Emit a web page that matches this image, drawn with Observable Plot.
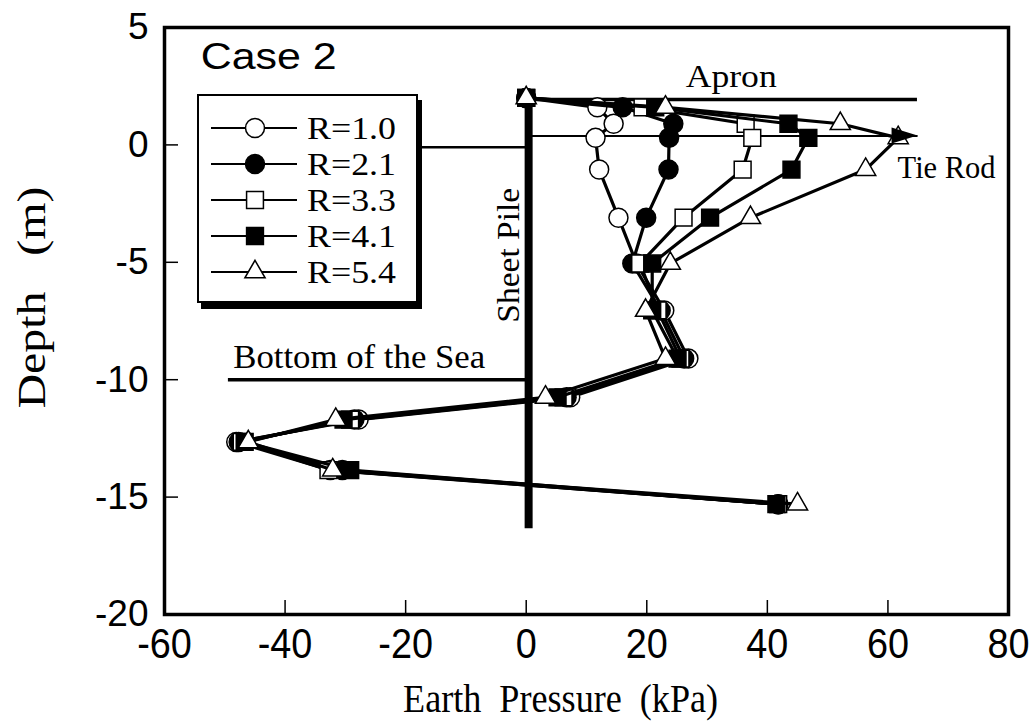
<!DOCTYPE html>
<html><head><meta charset="utf-8">
<script src="https://cdn.jsdelivr.net/npm/d3@7"></script>
<script src="https://cdn.jsdelivr.net/npm/@observablehq/plot@0.6"></script>
<style>
body{margin:0;background:#fff;}
#wrap{position:relative;width:1035px;height:728px;overflow:hidden;}
#legend{position:absolute;left:197px;top:94px;width:217px;height:205px;border:2px solid #000;box-shadow:4px 6px 0 #000;background:#fff;}
#legend svg{display:block;}
</style></head><body><div id="wrap"></div>
<script>
// ---- data ----
const series = ["R=1.0", "R=2.1", "R=3.3", "R=4.1", "R=5.4"];
const symbols = ["circle", "circle", "square", "square", "triangle"];
const fills = ["white", "black", "white", "black", "white"];
const depths = [2.0, 1.6, 0.9, 0.3, -1.05, -3.1, -5.05, -7.05, -9.1, -10.75, -11.7, -12.65, -13.85, -15.3];
const pR10 = [0, 11.8, 14.5, 11.5, 12.1, 15.3, 18.3, 22.9, 26.9, 7.3, -27.8, -48.1, -32.5, 41.8];
const pR21 = [0, 16.0, 24.4, 23.7, 23.6, 19.9, 17.6, 22.3, 26.2, 6.7, -28.5, -47.7, -30.5, 41.8];
const pR33 = [0, 19.3, 36.4, 37.5, 35.9, 26.1, 18.9, 21.8, 25.6, 6.2, -29.2, -47.2, -32.8, 41.8];
const pR41 = [0, 21.4, 43.5, 46.8, 44.0, 30.5, 20.9, 20.9, 25.1, 5.2, -30.3, -46.7, -29.2, 41.5];
const pR54 = [0, 23.1, 52.1, 61.7, 56.3, 37.2, 23.9, 19.8, 23.1, 3.2, -31.6, -46.1, -32.1, 45.0];
const values = [pR10, pR21, pR33, pR41, pR54];
const xTicks = [-60, -40, -20, 0, 20, 40, 60, 80];
const yTicks = [5, 0, -5, -10, -15, -20];
// structures (data units)
const sheetPile = {x: 0.4, top: 2.1, bottom: -16.35};
const apron = {x1: 0.4, x2: 64.9, y: 1.93};
const tieRod = {x1: 0.4, x2: 65.0, y: 0.38};
const seaBottom = {x1: -49.4, x2: 0, y: -10.0};
const groundLine = {x1: -30, x2: 0, y: -0.1};

const serif = "Liberation Serif, Times New Roman, serif";
const sans = "Liberation Sans, Arial, sans-serif";
const xTitle = "Earth\u00a0 Pressure\u00a0 (kPa)";
const yTitle = "Depth\u00a0\u00a0 (m)";
const notes = [
  {text: "Case 2", x: -54, y: 3.72, font: sans, size: 36, anchor: "start", rotate: 0, w: 136},
  {text: "Apron", x: 34.0, y: 2.91, font: serif, size: 32, anchor: "middle", rotate: 0, w: 91},
  {text: "Tie Rod", x: 61.6, y: -0.96, font: serif, size: 32, anchor: "start", rotate: 0, w: 98},
  {text: "Bottom of the Sea", x: -48.6, y: -9.05, font: serif, size: 33, anchor: "start", rotate: 0, w: 252},
  {text: "Sheet Pile", x: -2.95, y: -4.7, font: serif, size: 32, anchor: "middle", rotate: -90, w: 135},
  {text: xTitle, x: 5.7, y: -23.62, font: serif, size: 40, anchor: "middle", rotate: 0, w: 315},
  {text: yTitle, x: -81.9, y: -6.5, font: serif, size: 39, anchor: "middle", rotate: -90, w: 222}
];

const seriesMarks = series.flatMap((s, i) => {
  const data = depths.map((d, j) => ({p: values[i][j], d}));
  const r = symbols[i] === "triangle" ? 7.5 : 9.5;
  return [
    Plot.line(data, {x: "p", y: "d", stroke: "black", strokeWidth: 3.2}),
    Plot.dot(data, {x: "p", y: "d", symbol: symbols[i], r, fill: fills[i], stroke: "black", strokeWidth: 1.5})
  ];
});

const noteMarks = notes.map(n => Plot.text([n], {
  x: "x", y: "y", text: "text", fontFamily: n.font, fontSize: n.size,
  textAnchor: n.anchor, rotate: n.rotate, fill: "black", lineAnchor: "middle", clip: false
}));

const plot = Plot.plot({
  width: 1035, height: 728,
  marginLeft: 164, marginRight: 27, marginTop: 27, marginBottom: 114,
  x: {domain: [-60, 80]},
  y: {domain: [-20, 5]},
  style: {background: "white", color: "black"},
  marks: [
    Plot.ruleY([groundLine], {y: "y", x1: "x1", x2: "x2", strokeWidth: 2.5}),
    Plot.ruleY([apron], {y: "y", x1: "x1", x2: "x2", strokeWidth: 3.5}),
    Plot.ruleY([tieRod], {y: "y", x1: "x1", x2: "x2", strokeWidth: 1.8}),
    Plot.ruleY([seaBottom], {y: "y", x1: "x1", x2: "x2", strokeWidth: 3.5}),
    Plot.ruleX([sheetPile], {x: "x", y1: "top", y2: "bottom", strokeWidth: 8}),
    ...seriesMarks,
    ...noteMarks,
    Plot.axisX({ticks: xTicks, tickSize: -14, tickPadding: 28, fontSize: 42, fontFamily: sans, label: null, tickFormat: d => String(d), strokeWidth: 1.5}),
    Plot.axisY({ticks: yTicks, tickSize: -14, tickPadding: 30, fontSize: 37, fontFamily: sans, label: null, tickFormat: d => String(d), strokeWidth: 1.5}),
    Plot.frame({stroke: "black", strokeWidth: 3.5})
  ]
});

// filled arrowhead on tie rod, placed with the plot's own scales
const sx = plot.scale("x"), sy = plot.scale("y");
const tx = sx.apply(tieRod.x2), ty = sy.apply(tieRod.y);
d3.select(plot).append("polygon")
  .attr("points", `${tx},${ty} ${tx - 26},${ty - 8} ${tx - 26},${ty + 8}`)
  .attr("fill", "black");

const wrap = document.getElementById("wrap");
wrap.appendChild(plot);

// match text widths of the reference
const widths = new Map(notes.map(n => [n.text, n.w]));
d3.select(plot).selectAll("text").each(function() {
  const w = widths.get(this.textContent);
  if (w) { this.setAttribute("textLength", w); this.setAttribute("lengthAdjust", "spacingAndGlyphs"); }
});
d3.select(plot).selectAll('g[aria-label="x-axis tick label"] text').each(function() {
  const w = this.getComputedTextLength();
  this.setAttribute("textLength", w * 0.9); this.setAttribute("lengthAdjust", "spacingAndGlyphs");
});

// legend
const legend = document.createElement("div");
legend.id = "legend";
wrap.appendChild(legend);
const lsvg = d3.select(legend).append("svg").attr("width", 217).attr("height", 205);
series.forEach((s, i) => {
  const cy = 32 + i * 36;
  const g = lsvg.append("g").attr("transform", `translate(0,${cy})`);
  g.append("line").attr("x1", 12).attr("x2", 98).attr("y1", 0).attr("y2", 0).attr("stroke", "black").attr("stroke-width", 2);
  const r = symbols[i] === "triangle" ? 7.5 : 9.5;
  const sym = symbols[i] === "circle" ? d3.symbolCircle : symbols[i] === "square" ? d3.symbolSquare : d3.symbolTriangle;
  g.append("path").attr("d", d3.symbol(sym, Math.PI * r * r)()).attr("transform", "translate(56,0)")
    .attr("fill", fills[i]).attr("stroke", "black").attr("stroke-width", 1.5);
  g.append("text").attr("x", 108).attr("y", 0).attr("dy", "0.35em").text(s)
    .attr("font-family", serif).attr("font-size", 31)
    .attr("textLength", 89).attr("lengthAdjust", "spacingAndGlyphs");
});
</script></body></html>
